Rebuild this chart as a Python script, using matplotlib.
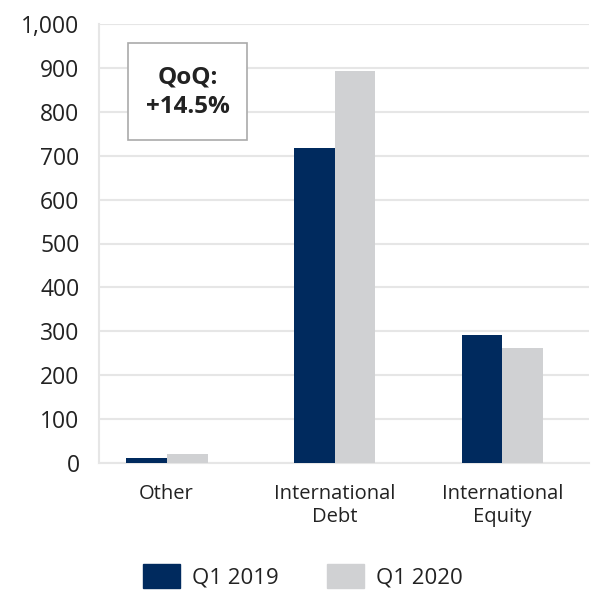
import matplotlib
matplotlib.use("Agg")
import matplotlib.pyplot as plt
from matplotlib.patches import Rectangle, Patch
import numpy as np

categories = ["Other", "International\nDebt", "International\nEquity"]
q1_2019 = [12, 717, 292]
q1_2020 = [21, 892, 262]
series_labels = ["Q1 2019", "Q1 2020"]
yticks = [0, 100, 200, 300, 400, 500, 600, 700, 800, 900, 1000]
annotation = "QoQ:\n+14.5%"

navy = "#002a5e"
grey = "#d0d1d3"
text_c = "#222222"

plt.rcParams['font.family'] = ['Open Sans', 'DejaVu Sans']

W, H = 595, 592
fig = plt.figure(figsize=(W/100, H/100), dpi=100)
ax = fig.add_axes([99/W, 1-463/H, (589-99)/W, (463-24)/H])

x = np.arange(len(categories))
bw = 0.244
ax.bar(x - bw/2, q1_2019, bw, color=navy, zorder=3)
ax.bar(x + bw/2, q1_2020, bw, color=grey, zorder=3)

ax.set_xlim(-0.402, 2.515)
ax.set_ylim(0, 1000)
ax.set_yticks(yticks)
ax.set_yticklabels([f"{v:,}" for v in yticks], fontsize=16.5, color=text_c)
ax.set_xticks(x)
ax.set_xticklabels(categories, fontsize=14.5, color=text_c, linespacing=1.2)
ax.tick_params(axis='y', length=0, pad=14)
ax.tick_params(axis='x', length=0, pad=15)
ax.grid(axis='y', color='#e6e6e6', linewidth=1.5, zorder=0)
for s in ['top', 'right']:
    ax.spines[s].set_visible(False)
for s in ['left', 'bottom']:
    ax.spines[s].set_color('#e6e6e6')
    ax.spines[s].set_linewidth(1.5)

# annotation box
fig.patches.append(Rectangle((128/W, 1-140/H), 119/W, 97/H, transform=fig.transFigure,
                             facecolor='white', edgecolor='#aaaaaa', linewidth=1.2, zorder=5))
fig.text(187.5/W, 1-92/H, annotation, ha='center', va='center', fontsize=17.5,
         fontweight='bold', color=text_c, linespacing=1.3, zorder=6)

handles = [Patch(color=navy), Patch(color=grey)]
fig.legend(handles, series_labels, loc='center', bbox_to_anchor=(303/W, 1-576/H), ncol=2,
           frameon=False, fontsize=16, handlelength=1.65, handleheight=1.3,
           handletextpad=0.55, columnspacing=2.2, labelcolor=text_c)

fig.savefig("out.png", dpi=100)
